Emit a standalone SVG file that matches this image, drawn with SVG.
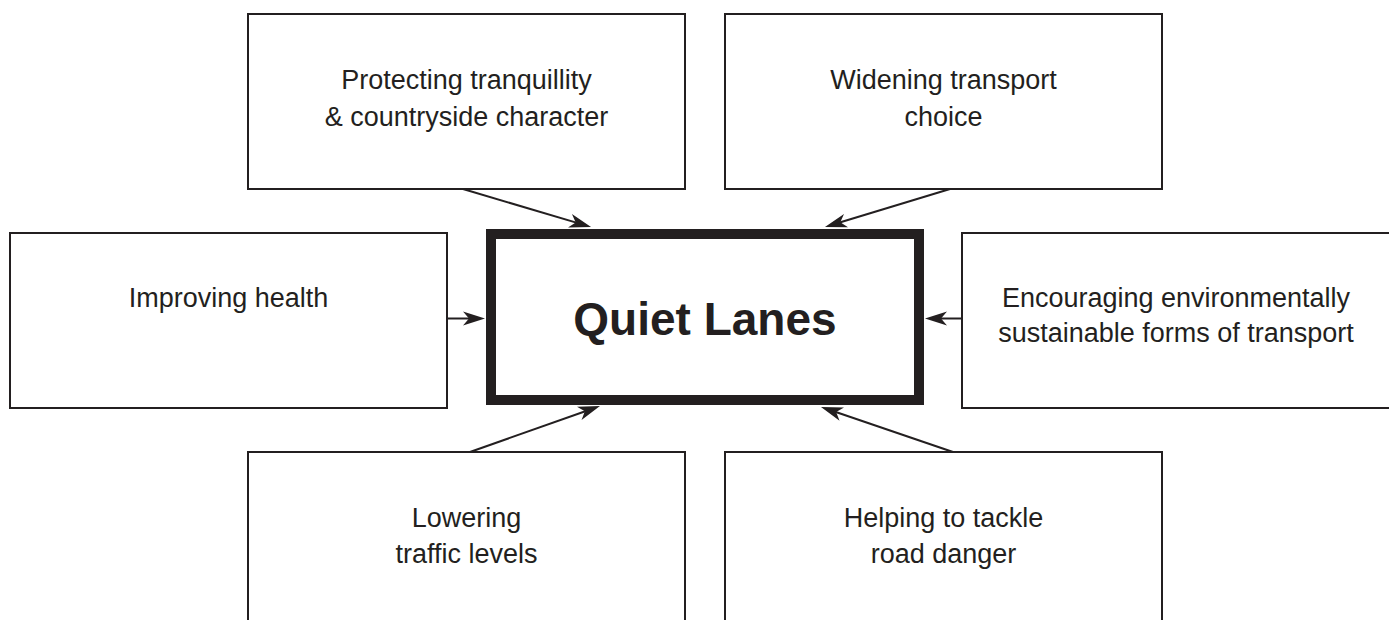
<svg xmlns="http://www.w3.org/2000/svg" width="1389" height="620" viewBox="0 0 1389 620">
<style>
.box{fill:#fff;stroke:#231f20;stroke-width:2}
.main{fill:#fff;stroke:#231f20;stroke-width:10}
.lbl{font-family:"Liberation Sans",Arial,Helvetica,sans-serif;font-size:27px;fill:#231f20;text-anchor:middle}
.title{font-family:"Liberation Sans",Arial,Helvetica,sans-serif;font-size:46px;font-weight:bold;fill:#231f20;text-anchor:middle}
.conn{stroke:#231f20;stroke-width:2;fill:none;marker-end:url(#ah)}
</style>
<defs>
<marker id="ah" markerUnits="userSpaceOnUse" markerWidth="24" markerHeight="16" viewBox="0 -8 24 16" refX="11" refY="0" orient="auto">
<path d="M0,-7 L22,0 L0,7 L6,0 Z" fill="#231f20"/>
</marker>
</defs>
<rect width="1389" height="620" fill="#fff"/>
<g id="n-tranquillity">
<rect class="box" x="248" y="14" width="437" height="175"/>
<text class="lbl" x="466.5" y="89">Protecting tranquillity</text>
<text class="lbl" x="466.5" y="126">&amp; countryside character</text>
</g>
<g id="n-transport-choice">
<rect class="box" x="725" y="14" width="437" height="175"/>
<text class="lbl" x="943.5" y="89">Widening transport</text>
<text class="lbl" x="943.5" y="126">choice</text>
</g>
<g id="n-health">
<rect class="box" x="10" y="233" width="437" height="175"/>
<text class="lbl" x="228.5" y="307">Improving health</text>
</g>
<g id="n-sustainable">
<rect class="box" x="962" y="233" width="440" height="175"/>
<text class="lbl" x="1176" y="307">Encouraging environmentally</text>
<text class="lbl" x="1176" y="342">sustainable forms of transport</text>
</g>
<g id="n-traffic">
<rect class="box" x="248" y="452" width="437" height="200"/>
<text class="lbl" x="466.5" y="527">Lowering</text>
<text class="lbl" x="466.5" y="563">traffic levels</text>
</g>
<g id="n-danger">
<rect class="box" x="725" y="452" width="437" height="200"/>
<text class="lbl" x="943.5" y="527">Helping to tackle</text>
<text class="lbl" x="943.5" y="563">road danger</text>
</g>
<g id="n-quiet-lanes">
<rect class="main" x="491" y="234" width="428" height="166"/>
<text class="title" x="705" y="335">Quiet Lanes</text>
</g>
<g id="connectors">
<line class="conn" x1="463" y1="189" x2="580.5" y2="223.9"/>
<line class="conn" x1="950" y1="189" x2="835.5" y2="223.8"/>
<line class="conn" x1="447" y1="318.5" x2="474" y2="318.5"/>
<line class="conn" x1="962" y1="318.5" x2="936" y2="318.5"/>
<line class="conn" x1="470" y1="452" x2="589.6" y2="409.7"/>
<line class="conn" x1="953" y1="452" x2="831.4" y2="410.5"/>
</g>
</svg>
